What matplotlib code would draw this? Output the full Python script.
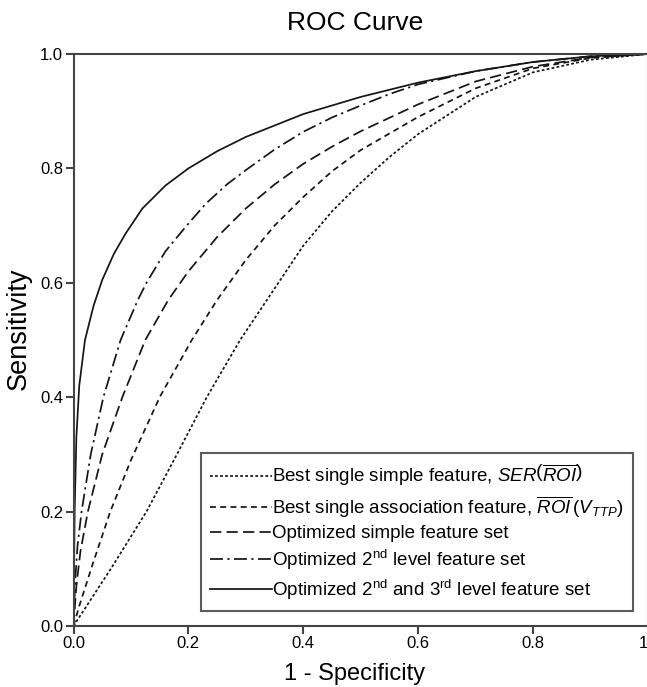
import matplotlib
matplotlib.use("Agg")
import matplotlib.pyplot as plt

plt.rcParams['font.family'] = ['Liberation Sans', 'DejaVu Sans']
plt.rcParams['mathtext.fontset'] = 'custom'
plt.rcParams['mathtext.rm'] = 'Liberation Sans'
plt.rcParams['mathtext.it'] = 'Liberation Sans:italic'
plt.rcParams['mathtext.bf'] = 'Liberation Sans:bold'

# ---- data ----
x_ticks = [0.0, 0.2, 0.4, 0.6, 0.8, 1.0]
x_tick_labels = ['0.0', '0.2', '0.4', '0.6', '0.8', '1']
y_ticks = [0.0, 0.2, 0.4, 0.6, 0.8, 1.0]
y_tick_labels = ['0.0', '0.2', '0.4', '0.6', '0.8', '1.0']

# Best single simple feature (dotted)
simple_fpr = [0.0, 0.065, 0.127, 0.18, 0.232, 0.29, 0.34, 0.4, 0.45, 0.5, 0.55, 0.6, 0.7, 0.8, 0.9, 1.0]
simple_tpr = [0.0, 0.10, 0.20, 0.30, 0.40, 0.50, 0.575, 0.665, 0.725, 0.775, 0.82, 0.86, 0.925, 0.968, 0.99, 1.0]

# Best single association feature (short dashes)
assoc_fpr = [0.0, 0.01, 0.034, 0.064, 0.1, 0.15, 0.206, 0.25, 0.3, 0.35, 0.4, 0.45, 0.5, 0.6, 0.7, 0.8, 0.9, 1.0]
assoc_tpr = [0.0, 0.035, 0.11, 0.20, 0.29, 0.40, 0.50, 0.57, 0.64, 0.70, 0.75, 0.795, 0.832, 0.89, 0.94, 0.975, 0.993, 1.0]

# Optimized simple feature set (long dashes)
optsimple_fpr = [0.0, 0.005, 0.012, 0.025, 0.05, 0.085, 0.125, 0.165, 0.2, 0.25, 0.3, 0.35, 0.4, 0.45, 0.5, 0.6, 0.7, 0.8, 0.9, 1.0]
optsimple_tpr = [0.0, 0.07, 0.13, 0.20, 0.30, 0.40, 0.50, 0.57, 0.62, 0.68, 0.73, 0.772, 0.808, 0.838, 0.865, 0.912, 0.952, 0.978, 0.994, 1.0]

# Optimized 2nd level feature set (dash-dot)
opt2_fpr = [0.0, 0.003, 0.007, 0.014, 0.03, 0.052, 0.082, 0.112, 0.127, 0.16, 0.197, 0.23, 0.267, 0.3, 0.35, 0.4, 0.45, 0.5, 0.55, 0.6, 0.7, 0.8, 0.9, 1.0]
opt2_tpr = [0.0, 0.08, 0.14, 0.20, 0.30, 0.40, 0.50, 0.57, 0.60, 0.655, 0.70, 0.738, 0.772, 0.797, 0.833, 0.864, 0.889, 0.91, 0.93, 0.947, 0.97, 0.986, 0.996, 1.0]

# Optimized 2nd and 3rd level feature set (solid)
opt23_fpr = [0.0, 0.002, 0.005, 0.01, 0.02, 0.035, 0.05, 0.07, 0.09, 0.12, 0.16, 0.2, 0.25, 0.3, 0.4, 0.5, 0.6, 0.7, 0.8, 0.9, 1.0]
opt23_tpr = [0.0, 0.20, 0.33, 0.42, 0.50, 0.56, 0.605, 0.65, 0.685, 0.73, 0.77, 0.80, 0.83, 0.855, 0.895, 0.925, 0.95, 0.97, 0.986, 0.996, 1.0]

labels = [
    r'Best single simple feature, $\mathit{SER}\left(\overline{\mathit{ROI}}\right)$',
    r'Best single association feature, $\overline{\mathit{ROI}}\,(\mathit{V}_{\mathit{TTP}})$',
    'Optimized simple feature set',
    r'Optimized 2$^{\mathrm{nd}}$ level feature set',
    r'Optimized 2$^{\mathrm{nd}}$ and 3$^{\mathrm{rd}}$ level feature set',
]

W, H = 647, 687
fig = plt.figure(figsize=(W / 100, H / 100), dpi=100)
ax = fig.add_axes([73.5 / W, 61 / H, (648 - 73.5) / W, 572 / H])

col = '#151515'
lw = 1.25
ax.plot(simple_fpr, simple_tpr, color=col, lw=lw, ls=(0, (1.6, 1.3)), label=labels[0])
ax.plot(assoc_fpr, assoc_tpr, color=col, lw=lw, ls=(0, (3.4, 2.5)), label=labels[1])
ax.plot(optsimple_fpr, optsimple_tpr, color=col, lw=lw, ls=(0, (6.5, 3.0)), label=labels[2])
ax.plot(opt2_fpr, opt2_tpr, color=col, lw=lw, ls=(0, (7.5, 2.5, 1.3, 2.5)), label=labels[3])
ax.plot(opt23_fpr, opt23_tpr, color=col, lw=lw, ls='-', label=labels[4])

ax.set_xlim(0, 1)
ax.set_ylim(0, 1)
ax.set_xticks(x_ticks)
ax.set_xticklabels(x_tick_labels)
ax.set_yticks(y_ticks)
ax.set_yticklabels(y_tick_labels)
ax.get_xticklabels()[-1].set_horizontalalignment('right')

for s in ax.spines.values():
    s.set_linewidth(1.5)
    s.set_color('#444444')
ax.tick_params(direction='out', length=6, width=1.5, color='#444444',
               labelsize=12, pad=1.5)

leg = ax.legend(loc='lower right', bbox_to_anchor=(0.974, 0.026), borderaxespad=0,
                fontsize=13.5, frameon=True, fancybox=False, handlelength=3.3,
                handletextpad=0.0, labelspacing=0.3, borderpad=0.5)
leg.get_frame().set_edgecolor('#333333')
leg.get_frame().set_linewidth(1.5)

fig.text(355 / W, 1 - 30 / H, 'ROC Curve', ha='center', va='baseline', fontsize=19)
fig.text(355 / W, 1 - 680 / H, '1 - Specificity', ha='center', va='baseline', fontsize=17)
fig.text(19 / W, 1 - 329 / H, 'Sensitivity', ha='center', va='center', rotation=90, fontsize=19.5)

fig.savefig('out.png', dpi=100)
